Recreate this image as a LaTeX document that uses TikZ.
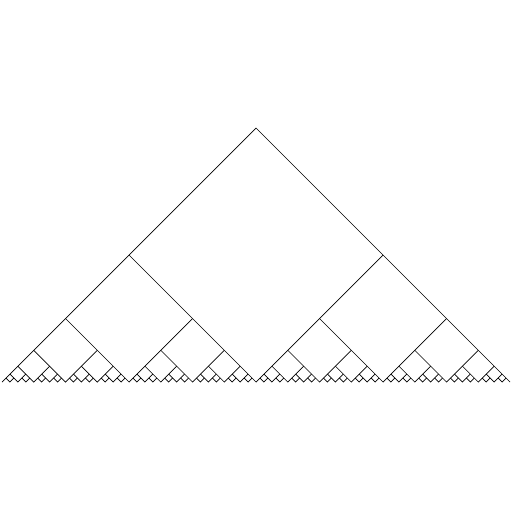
\documentclass[tikz,border=0pt]{standalone}
\begin{document}
\begin{tikzpicture}[x=1pt,y=-1pt,fractal/.style={draw=black,line width=0.7pt}]
\useasboundingbox (0,0) rectangle (512,512);
\coordinate (L) at (2,382);
\coordinate (T) at (256,128);
\coordinate (R) at (510,382);
\draw[fractal] (L) -- (T) -- (R);
\foreach \k in {0,...,5}{
  \pgfmathsetmacro\h{254/2^\k}
  \pgfmathtruncatemacro\n{2^\k-1}
  \foreach \i in {0,...,\n}{
    \pgfmathsetmacro\xa{2+\h+2*\h*\i}
    \coordinate (a) at ({\xa-\h/2},{382-\h/2});
    \coordinate (b) at (\xa,382);
    \coordinate (c) at ({\xa+\h/2},{382-\h/2});
    \draw[fractal] (a) -- (b) -- (c);
  }
}
\end{tikzpicture}
\end{document}
